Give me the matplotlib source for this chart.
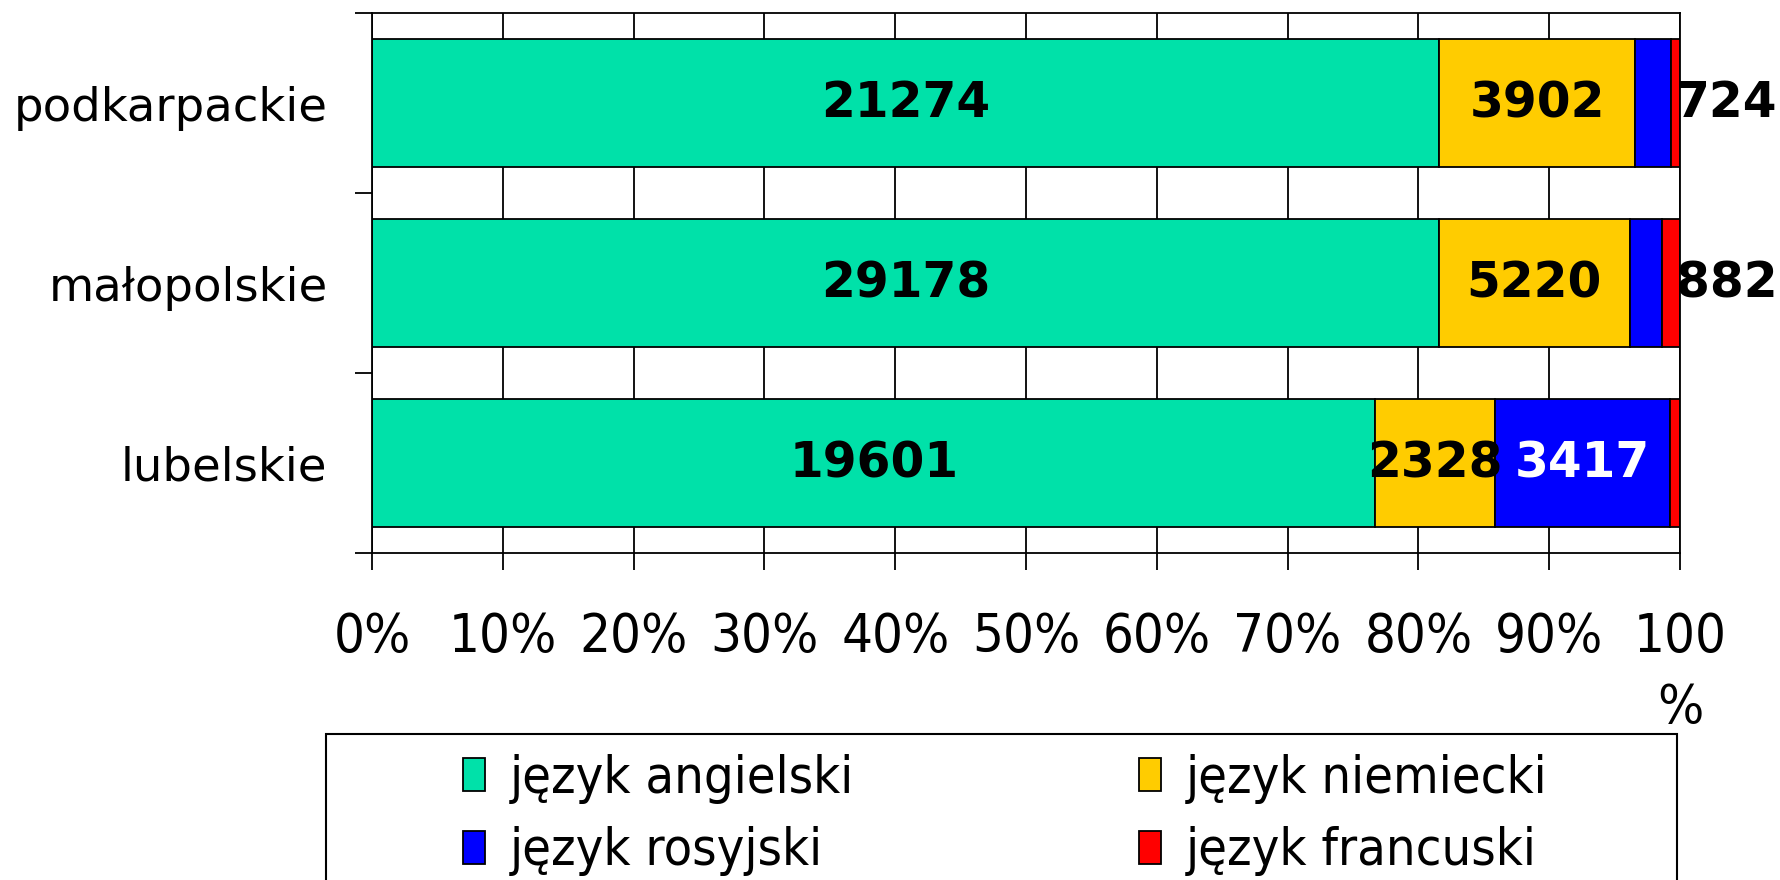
import matplotlib
matplotlib.use("Agg")
import matplotlib.pyplot as plt
from matplotlib import font_manager as fm
from matplotlib.patches import Patch, Rectangle
import numpy as np

# ---- data ----
categories = ["lubelskie", "małopolskie", "podkarpackie"]
series_names = ["język angielski", "język niemiecki", "język rosyjski", "język francuski"]
angielski = [19601, 29178, 21274]
niemiecki = [2328, 5220, 3902]
rosyjski = [3417, 882, 724]
francuski = [205, 495, 170]
colors = ["#00E1A9", "#FFCC00", "#0000FF", "#FF0000"]
xtick_labels = ["0%", "10%", "20%", "30%", "40%", "50%", "60%", "70%", "80%", "90%", "100\n%"]

# labels: which series show value labels; small russian ones placed outside right
label_series = [0, 1, 2]
outside_label = {(2, 1), (2, 2)}          # (series, category) pairs placed beyond 100%
white_label = {(2, 0)}

# ---- fonts ----
names = {f.name for f in fm.fontManager.ttflist}
cond_prop = None
for f in fm.fontManager.ttflist:
    if (f.name == "DejaVu Sans" and str(f.stretch) in ("condensed", "semi-condensed")
            and f.style == "normal" and f.weight in (400, "normal", "regular", "book", "Book")):
        cond_prop = fm.FontProperties(fname=f.fname)
        break
if cond_prop is None and "Liberation Sans Narrow" in names:
    cond_prop = fm.FontProperties(family="Liberation Sans Narrow")
if cond_prop is None:
    cond_prop = fm.FontProperties(family="DejaVu Sans", stretch="condensed", style="normal")

plt.rcParams["font.family"] = ["DejaVu Sans"]

fig = plt.figure(figsize=(17.8, 8.8), dpi=100)
ax = fig.add_axes([372 / 1780, 1 - 553 / 880, (1680 - 372) / 1780, (553 - 13) / 880])

data = np.array([angielski, niemiecki, rosyjski, francuski], dtype=float)
totals = data.sum(axis=0)
pct = data / totals * 100
y = np.arange(len(categories))
left = np.zeros(len(categories))
for i, name in enumerate(series_names):
    ax.barh(y, pct[i], left=left, height=0.71, color=colors[i],
            edgecolor="black", linewidth=1.3, label=name, zorder=2)
    if i in label_series:
        for j in range(len(categories)):
            val = int(data[i, j])
            if (i, j) in outside_label:
                ax.annotate(str(val), xy=(100, y[j]), xytext=(-3, 0),
                            textcoords="offset points", ha="left", va="center",
                            fontsize=35, fontweight="bold", color="black",
                            annotation_clip=False, zorder=5)
            else:
                c = "white" if (i, j) in white_label else "black"
                ax.text(left[j] + pct[i, j] / 2, y[j], str(val), ha="center",
                        va="center", fontsize=35, fontweight="bold", color=c, zorder=5)
    left += pct[i]

ax.set_xlim(0, 100)
ax.set_ylim(-0.5, 2.5)
ax.set_xticks(np.arange(0, 101, 10))
ax.set_xticklabels(xtick_labels, fontproperties=cond_prop, fontsize=39, linespacing=1.45)
ax.tick_params(axis="x", direction="out", length=12, width=1.3, pad=30, color="black")
ax.set_yticks(y)
ax.set_yticklabels(categories, fontsize=33.5)
ax.tick_params(axis="y", which="major", length=0, pad=32)
ax.set_yticks([-0.5, 0.5, 1.5, 2.5], minor=True)
ax.tick_params(axis="y", which="minor", direction="out", length=12, width=1.3, color="black")
ax.set_axisbelow(True)
ax.grid(axis="x", color="black", linewidth=1.3, zorder=0)
for s in ax.spines.values():
    s.set_color("black")
    s.set_linewidth(1.3)

# legend in two columns
handles = [Patch(facecolor=colors[i], edgecolor="black", linewidth=1.3) for i in range(4)]
leg_prop = cond_prop.copy()
leg_prop.set_size(37.5)
leg_kw = dict(frameon=False, loc="upper left", ncol=1, handlelength=0.42, handleheight=0.6,
              handletextpad=0.48, labelspacing=0.43, borderpad=0, borderaxespad=0,
              prop=leg_prop)
l1 = fig.legend([handles[0], handles[2]], [series_names[0], series_names[2]],
                bbox_to_anchor=(463 / 1780, 1 - 754 / 880), **leg_kw)
l2 = fig.legend([handles[1], handles[3]], [series_names[1], series_names[3]],
                bbox_to_anchor=(1139 / 1780, 1 - 754 / 880), **leg_kw)

fig.patches.append(Rectangle((326 / 1780, -0.1), (1677 - 326) / 1780, 0.1 + (880 - 734) / 880,
                             transform=fig.transFigure, fill=False, edgecolor="black",
                             linewidth=1.5))

fig.savefig("out.png", dpi=100, facecolor="white")
